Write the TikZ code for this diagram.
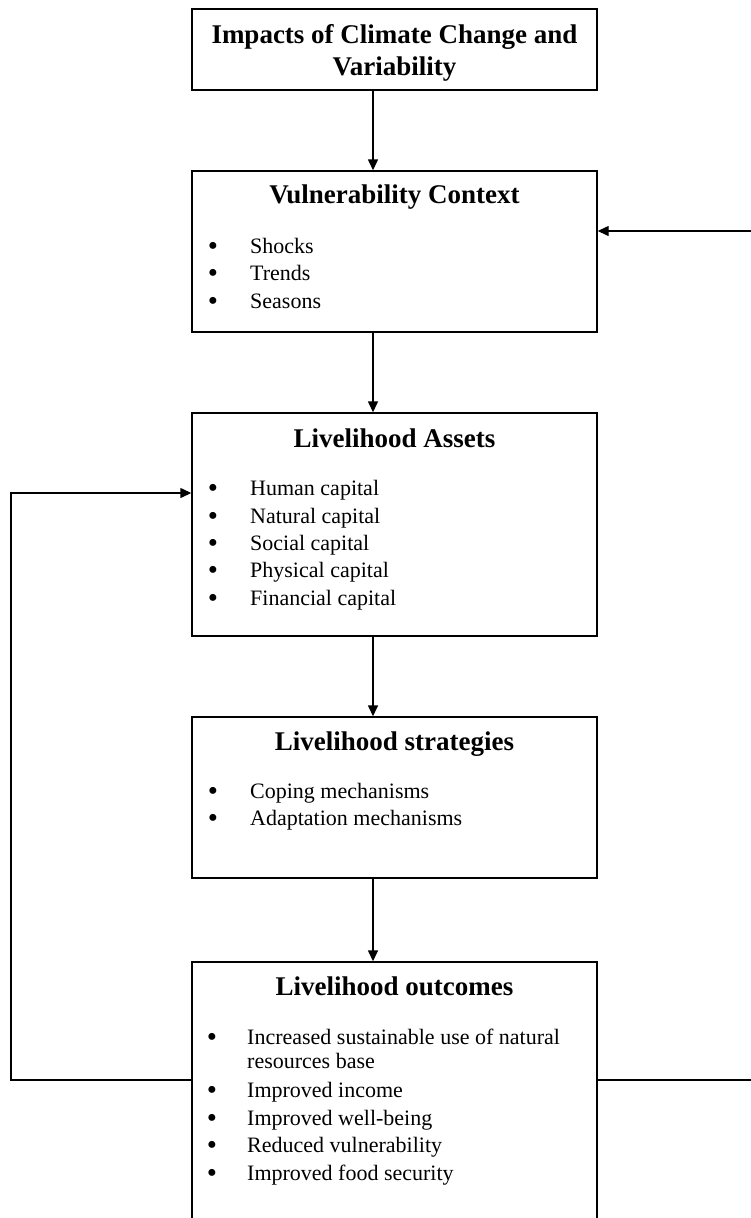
\documentclass[tikz,border=0pt]{standalone}
\usepackage{fontspec}
\setmainfont{Liberation Serif}
\usetikzlibrary{arrows.meta}
\begin{document}
\begin{tikzpicture}[x=1pt,y=-1pt,
  box/.style={draw, line width=1.4pt, rectangle, inner sep=0pt, minimum width=405pt},
  head/.style={anchor=base, inner sep=0pt, font=\fontsize{27}{32}\selectfont\bfseries},
  item/.style={anchor=base west, inner sep=0pt, font=\fontsize{22}{26}\selectfont},
  bul/.style={anchor=base, inner sep=0pt, yshift=-2pt, font=\fontsize{29}{32}\selectfont},
  conn/.style={line width=1.4pt},
  arr/.style={conn, -{Triangle[length=11pt,width=10pt]}}]
\useasboundingbox (0,0) rectangle (751,1218);
\clip (0,0) rectangle (751,1218);
% boxes
\node[box, minimum height=81pt]  (b1) at (394.5,49.5) {};
\node[box, minimum height=161pt] (b2) at (394.5,251.5) {};
\node[box, minimum height=223pt] (b3) at (394.5,524.5) {};
\node[box, minimum height=161pt] (b4) at (394.5,797.5) {};
\node[box, minimum height=278pt] (b5) at (394.5,1101) {};
% box 1
\node[head] (t1a) at (394.5,43) {Impacts of Climate Change and};
\node[head] (t1b) at (394.5,75) {Variability};
% box 2
\node[head] (t2) at (394.5,203) {Vulnerability Context};
\node[bul] (p21) at (213,253) {\textbullet}; \node[item] (i21) at (250,253) {Shocks};
\node[bul] (p22) at (213,280) {\textbullet}; \node[item] (i22) at (250,280) {Trends};
\node[bul] (p23) at (213,308) {\textbullet}; \node[item] (i23) at (250,308) {Seasons};
% box 3
\node[head] (t3) at (394.5,447) {Livelihood Assets};
\node[bul] (p31) at (213,495) {\textbullet}; \node[item] (i31) at (250,495) {Human capital};
\node[bul] (p32) at (213,523) {\textbullet}; \node[item] (i32) at (250,523) {Natural capital};
\node[bul] (p33) at (213,550) {\textbullet}; \node[item] (i33) at (250,550) {Social capital};
\node[bul] (p34) at (213,577) {\textbullet}; \node[item] (i34) at (250,577) {Physical capital};
\node[bul] (p35) at (213,605) {\textbullet}; \node[item] (i35) at (250,605) {Financial capital};
% box 4
\node[head] (t4) at (394.5,750) {Livelihood strategies};
\node[bul] (p41) at (213,798) {\textbullet}; \node[item] (i41) at (250,798) {Coping mechanisms};
\node[bul] (p42) at (213,825) {\textbullet}; \node[item] (i42) at (250,825) {Adaptation mechanisms};
% box 5
\node[head] (t5) at (394.5,995) {Livelihood outcomes};
\node[bul] (p51) at (212,1044) {\textbullet}; \node[item] (i51) at (247,1044) {Increased sustainable use of natural};
\node[item] (i51b) at (247,1068) {resources base};
\node[bul] (p52) at (212,1097) {\textbullet}; \node[item] (i52) at (247,1097) {Improved income};
\node[bul] (p53) at (212,1125) {\textbullet}; \node[item] (i53) at (247,1125) {Improved well-being};
\node[bul] (p54) at (212,1152) {\textbullet}; \node[item] (i54) at (247,1152) {Reduced vulnerability};
\node[bul] (p55) at (212,1180) {\textbullet}; \node[item] (i55) at (247,1180) {Improved food security};
% connectors
\coordinate (ax) at (373,0);
\draw[arr] (b1.south -| ax) -- (b2.north -| ax);
\draw[arr] (b2.south -| ax) -- (b3.north -| ax);
\draw[arr] (b3.south -| ax) -- (b4.north -| ax);
\draw[arr] (b4.south -| ax) -- (b5.north -| ax);
\coordinate (lb) at (11,1080);
\coordinate (lt) at (11,493);
\draw[arr] (b5.west |- lb) -- (lb) -- (lt) -- (b3.west |- lt);
\coordinate (rb) at (753,1080);
\coordinate (rt) at (753,231);
\draw[arr] (b5.east |- rb) -- (rb) -- (rt) -- (b2.east |- rt);
\end{tikzpicture}
\end{document}
